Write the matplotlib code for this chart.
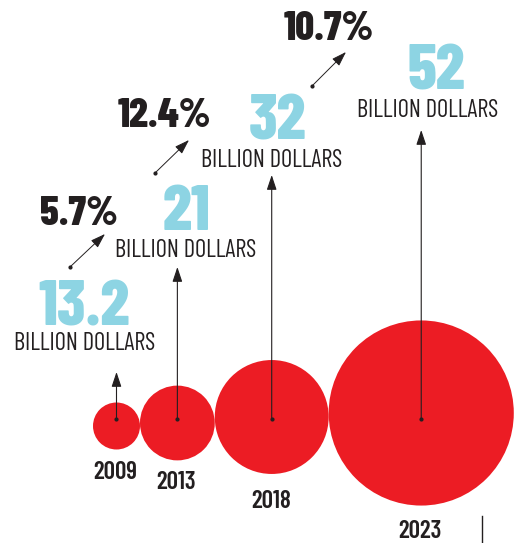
import matplotlib.pyplot as plt
from matplotlib import font_manager as fm
from matplotlib.patches import Circle

years = ['2009', '2013', '2018', '2023']
values = [13.2, 21, 32, 52]
value_labels = ['13.2', '21', '32', '52']
growth = ['5.7%', '12.4%', '10.7%']

red = '#ec1c24'
blue = '#8dd4e3'
ink = '#231f20'

installed = {f.name for f in fm.fontManager.ttflist}


def pick(*names):
    for n in names:
        if n in installed:
            return [n, 'DejaVu Sans']
    return ['DejaVu Sans']


condensed = pick('Barlow Condensed', 'Roboto Condensed', 'Oswald')

fig = plt.figure(figsize=(5.22, 5.43), dpi=100)
ax = fig.add_axes([0, 0, 1, 1])
ax.set_xlim(0, 522)
ax.set_ylim(543, 0)
ax.axis('off')

# bubbles: radius proportional to value, packed left to right so they touch
k = 1.78
radii = [k * v for v in values]
cy = [426, 423, 417, 413]
cx = []
x = 93
for r in radii:
    cx.append(x + r)
    x += 2 * r
for x0, y0, r in zip(cx, cy, radii):
    ax.add_patch(Circle((x0, y0), r, color=red, lw=0))

# arrows from each bubble up to its label
tips = [372, 267, 175, 130]
for x0, t in zip(cx, tips):
    ax.annotate('', xy=(x0, t), xytext=(x0, 419),
                arrowprops=dict(arrowstyle='-|>,head_length=0.9,head_width=0.3',
                                color=ink, lw=0.8, shrinkA=0, shrinkB=0))
    ax.plot(x0, 419, 'o', ms=2, color=ink)

# year labels
year_base = [479, 489, 508, 538]
for x0, yb, lab in zip(cx, year_base, years):
    ax.text(x0 - 1, yb, lab, ha='center', va='baseline', fontsize=18,
            family=condensed, weight=600, color=ink)

# value labels
val_x = [84, 187, 277, 436]
val_base = [325, 230, 140, 90]
bd_x = [85, 186, 272, 428]
bd_base = [350, 257, 167, 117]
for vx, vb, bx, bb, lab in zip(val_x, val_base, bd_x, bd_base, value_labels):
    ax.text(vx, vb, lab, ha='center', va='baseline', fontsize=46,
            family=condensed, weight=800, color=blue)
    ax.text(bx, bb, 'BILLION DOLLARS', ha='center', va='baseline', fontsize=17.5,
            family=condensed, weight=400, color=ink)

# growth rates with small diagonal arrows
g_x = [79, 164, 329]
g_base = [225, 127, 40]
g_arrows = [((70, 267), (105, 234)), ((155, 173), (189, 140)), ((312, 86), (346, 52))]
for gx, gb, lab, (a, b) in zip(g_x, g_base, growth, g_arrows):
    ax.text(gx, gb, lab, ha='center', va='baseline', fontsize=30,
            family=condensed, weight=800, color=ink)
    ax.annotate('', xy=b, xytext=a,
                arrowprops=dict(arrowstyle='-|>,head_length=0.9,head_width=0.3',
                                color=ink, lw=0.7, shrinkA=0, shrinkB=0))
    ax.plot(*a, 'o', ms=2, color=ink)

ax.plot([482, 482], [516, 543], color=ink, lw=1)

fig.savefig('out.png', dpi=100)
